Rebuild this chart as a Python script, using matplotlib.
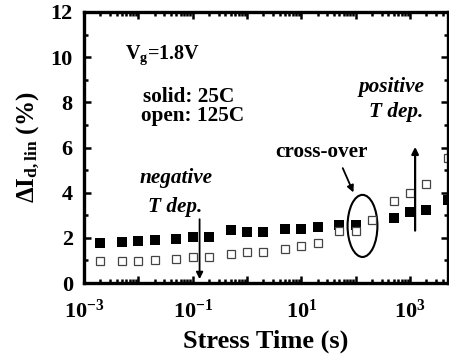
import numpy as np
import matplotlib
matplotlib.use('Agg')
import matplotlib.pyplot as plt
from matplotlib.patches import Ellipse
from matplotlib.ticker import LogLocator, MultipleLocator

plt.rcParams['font.family'] = 'Liberation Serif'
plt.rcParams['font.weight'] = 'bold'
plt.rcParams['mathtext.fontset'] = 'custom'
plt.rcParams['mathtext.rm'] = 'Liberation Serif:bold'
plt.rcParams['mathtext.bf'] = 'Liberation Serif:bold'
plt.rcParams['mathtext.it'] = 'Liberation Serif:bold:italic'

# stress time (s) and degradation (%)
t_solid = [0.002, 0.005, 0.01, 0.02, 0.05, 0.1, 0.2, 0.5, 1, 2, 5, 10, 20, 50, 100,
           500, 1000, 2000, 5000]
d_solid = [1.79, 1.81, 1.87, 1.91, 1.94, 2.03, 2.04, 2.36, 2.27, 2.27, 2.41, 2.41, 2.48,
           2.58, 2.58, 2.88, 3.14, 3.24, 3.69]

t_open = [0.002, 0.005, 0.01, 0.02, 0.05, 0.1, 0.2, 0.5, 1, 2, 5, 10, 20, 50, 100,
          200, 500, 1000, 2000, 5000]
d_open = [0.98, 0.98, 0.99, 1.04, 1.08, 1.16, 1.16, 1.29, 1.39, 1.39, 1.51, 1.63, 1.76,
          2.32, 2.32, 2.80, 3.64, 3.99, 4.37, 5.54]

xticks = [1e-3, 1e-2, 1e-1, 1e0, 1e1, 1e2, 1e3]
xticklabels = ['$10^{-3}$', '', '$10^{-1}$', '', '$10^{1}$', '', '$10^{3}$']
xmin, xmax = 1e-3, 5000

fig = plt.figure(figsize=(4.49, 3.62), dpi=100)
fig.patch.set_facecolor('white')
ax = fig.add_axes([0.187, 0.218, 0.811, 0.749])

ax.plot(t_solid, d_solid, 's', color='black', markersize=6.5, markeredgewidth=0)
ax.plot(t_open, d_open, 's', markerfacecolor='white', markeredgecolor='#444444',
        markersize=6.3, markeredgewidth=0.9)

ax.set_xscale('log')
ax.set_xlim(xmin, xmax)
ax.set_ylim(0, 12)

ax.xaxis.set_minor_locator(LogLocator(base=10, subs=np.arange(2, 10), numticks=20))
ax.set_xticks(xticks)
ax.set_xticklabels(xticklabels)
ax.yaxis.set_major_locator(MultipleLocator(2))
ax.yaxis.set_minor_locator(MultipleLocator(1))

ax.tick_params(which='both', direction='in', top=True, right=True, width=1.8)
ax.tick_params(which='major', length=5, labelsize=16)
ax.tick_params(axis='y', which='major', pad=8)
ax.tick_params(axis='x', which='major', pad=12)
ax.tick_params(which='minor', length=3)
for s in ax.spines.values():
    s.set_linewidth(2.4)

ax.set_xlabel('Stress Time (s)', fontsize=19, fontweight='bold', labelpad=5)
ax.set_ylabel(r'$\Delta$I$_{\mathregular{d,lin}}$ (%)', fontsize=18, fontweight='bold', labelpad=6)

ax.text(0.0056, 10.1, r'V$_{\mathregular{g}}$=1.8V', fontsize=14.5, ha='left', va='center')
ax.text(0.012, 8.22, 'solid: 25C', fontsize=15.3, ha='left', va='center')
ax.text(0.011, 7.38, 'open: 125C', fontsize=15.3, ha='left', va='center')

ax.text(0.0485, 4.67, 'negative', fontsize=15.3, style='italic', ha='center', va='center')
ax.text(0.047, 3.38, 'T dep.', fontsize=15.3, style='italic', ha='center', va='center')
ax.annotate('', xy=(0.134, 0.05), xytext=(0.134, 2.95),
            arrowprops=dict(arrowstyle='-|>', color='black', lw=1.3, mutation_scale=10))

ax.text(452, 8.67, 'positive', fontsize=15.3, style='italic', ha='center', va='center')
ax.text(562, 7.56, 'T dep.', fontsize=15.3, style='italic', ha='center', va='center')
ax.annotate('', xy=(1236, 6.15), xytext=(1236, 2.2),
            arrowprops=dict(arrowstyle='-|>', color='black', lw=1.6, mutation_scale=10))

ax.text(23.5, 5.78, 'cross-over', fontsize=15.3, ha='center', va='center')
ax.annotate('', xy=(95, 3.9), xytext=(55, 5.2),
            arrowprops=dict(arrowstyle='-|>', color='black', lw=1.3, mutation_scale=10))

# cross-over ellipse in axes fraction
lx = (np.log10(133) - np.log10(xmin)) / (np.log10(xmax) - np.log10(xmin))
ax.add_patch(Ellipse((lx, 2.53 / 12), 0.082, 0.229, transform=ax.transAxes,
                     fill=False, edgecolor='black', lw=1.5))

fig.savefig('out.png', dpi=100)
